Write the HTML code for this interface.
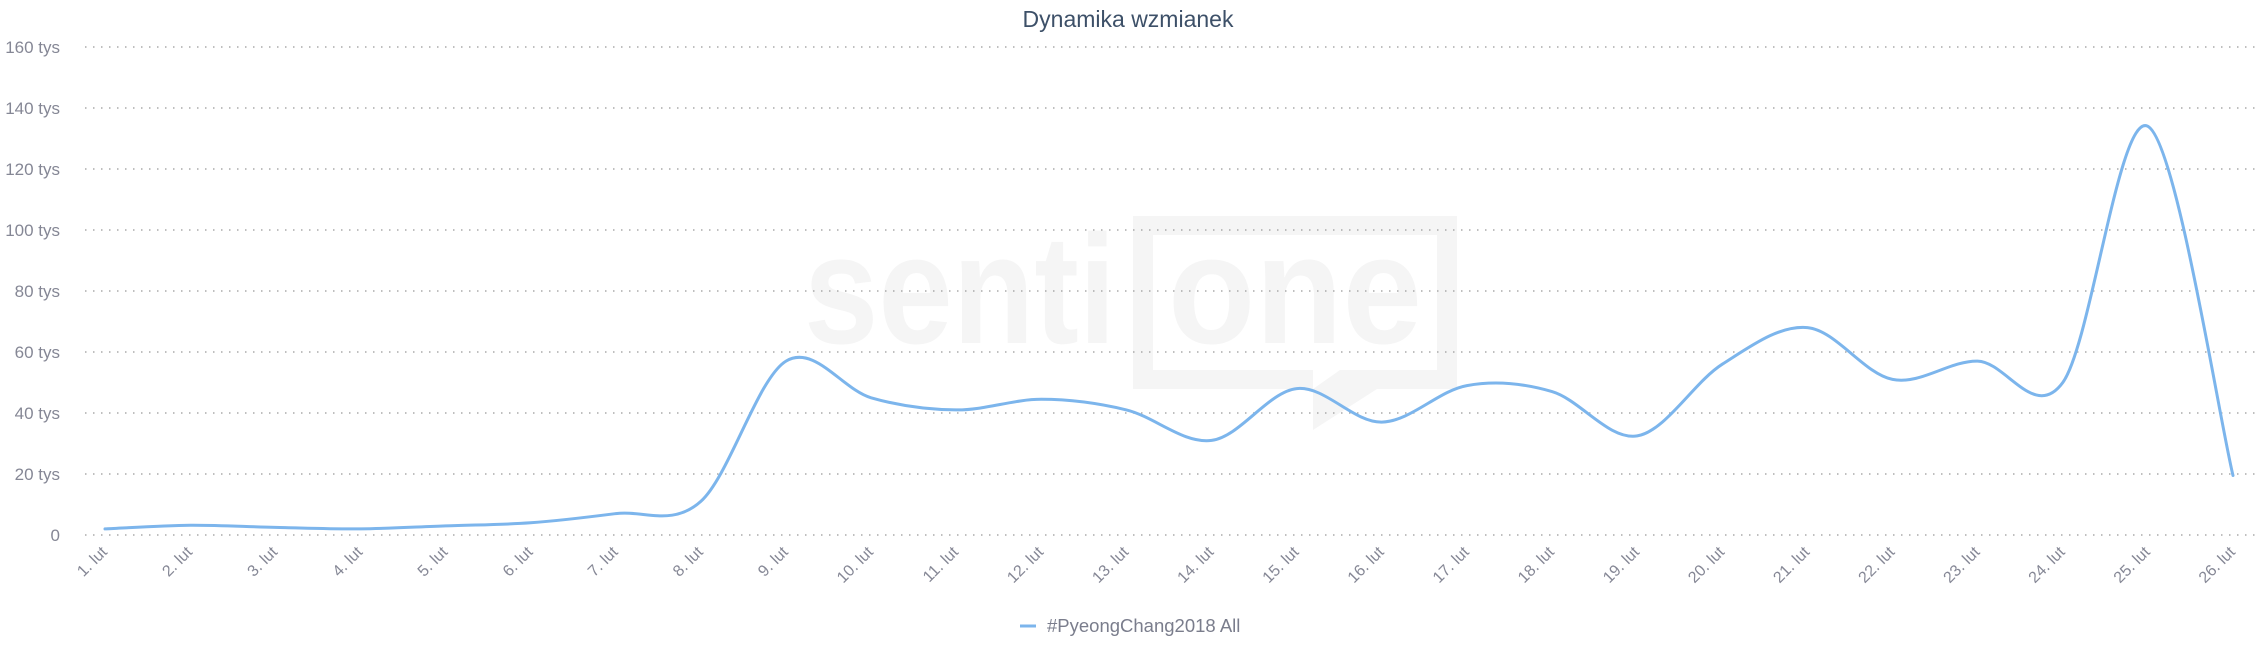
<!DOCTYPE html>
<html><head><meta charset="utf-8"><style>
html,body{margin:0;padding:0;background:#fff;width:2258px;height:652px;overflow:hidden}
svg{display:block}
text{font-family:"Liberation Sans",sans-serif}
</style></head><body>
<svg id="s" width="2258" height="652" xmlns="http://www.w3.org/2000/svg">
<g fill="#f5f5f5">
<path d="M1133 216 H1457 V389 H1377 L1313 430 V389 H1133 Z M1153 235 V370 H1313 V389 L1340 370 H1437 V235 Z" fill-rule="evenodd"/>
<text x="804" y="343" font-size="155" font-weight="bold" textLength="312" lengthAdjust="spacingAndGlyphs">senti</text>
<text x="1168" y="343" font-size="155" font-weight="bold" textLength="254" lengthAdjust="spacingAndGlyphs">one</text>
</g>
<text x="1128" y="27" text-anchor="middle" font-size="23" fill="#3d5068">Dynamika wzmianek</text>
<g id="grid"></g>
<g id="ylab" font-size="17" fill="#858795" text-anchor="end"></g>
<g id="xlab" font-size="16" fill="#858795" text-anchor="end"></g>
<path id="line" fill="none" stroke="#7cb5ec" stroke-width="3" stroke-linejoin="round" stroke-linecap="round"/>
<line x1="1020" y1="626" x2="1036" y2="626" stroke="#7cb5ec" stroke-width="3"/>
<text x="1047" y="632" font-size="18.5" fill="#7a7d8c">#PyeongChang2018 All</text>
</svg>
<script>
var ns="http://www.w3.org/2000/svg";
function el(t,a,p,txt){var e=document.createElementNS(ns,t);for(var k in a)e.setAttribute(k,a[k]);if(txt!=null)e.textContent=txt;document.getElementById(p).appendChild(e);return e;}
var y0=535,step=61;
for(var i=0;i<=8;i++){var y=y0-i*step;
el('line',{x1:85,x2:2258,y1:y,y2:y,stroke:'#aaa','stroke-width':1.5,'stroke-dasharray':'1.5 6.5'},'grid');
el('text',{x:60,y:y+6},'ylab',i==0?'0':(i*20)+' tys');}
var v=[2,3.2,2.5,2,3,4,7,11,57,45,41,44.5,41,31,48,37,49,47,32.5,56,68,51,57,50,134,19.5];
var x0=105,dx=85.12;
var P=v.map(function(d,i){return [x0+i*dx,y0-d*step/20];});
for(var i=0;i<26;i++){var x=P[i][0];
el('text',{x:x+3,y:553,transform:'rotate(-45 '+(x+3)+' 553)'},'xlab',(i+1)+'. lut');}
var d='M'+P[0][0]+' '+P[0][1];
for(var i=0;i<25;i++){var p0=P[Math.max(i-1,0)],p1=P[i],p2=P[i+1],p3=P[Math.min(i+2,25)];
var t=1/6;
var c1=[p1[0]+(p2[0]-p0[0])*t,p1[1]+(p2[1]-p0[1])*t];
var c2=[p2[0]-(p3[0]-p1[0])*t,p2[1]-(p3[1]-p1[1])*t];
d+=' C'+c1[0].toFixed(1)+' '+c1[1].toFixed(1)+' '+c2[0].toFixed(1)+' '+c2[1].toFixed(1)+' '+p2[0].toFixed(1)+' '+p2[1].toFixed(1);}
document.getElementById('line').setAttribute('d',d);
</script>
</body></html>
